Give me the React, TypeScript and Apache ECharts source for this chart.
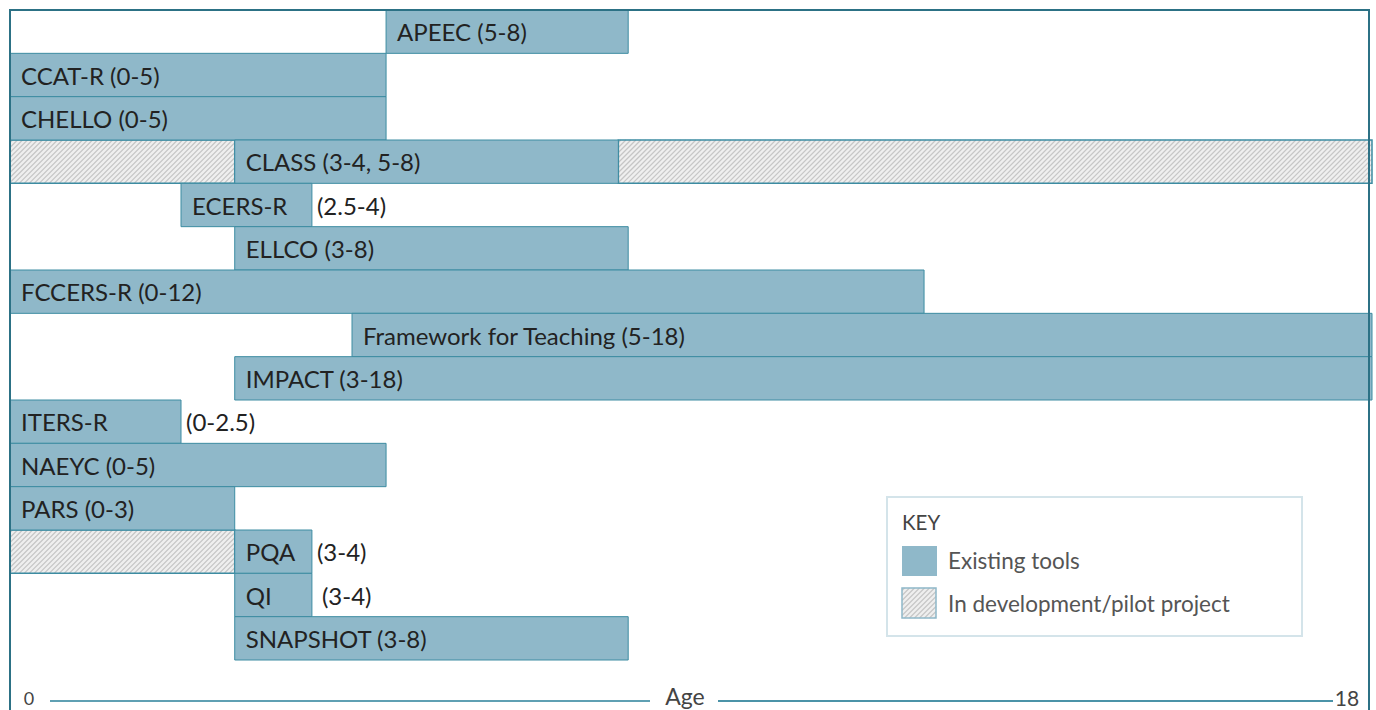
import React, { useEffect, useRef } from "react";
import * as echarts from "echarts";

// ---- data ----
const tools = [
  "APEEC", "CCAT-R", "CHELLO", "CLASS", "ECERS-R", "ELLCO", "FCCERS-R",
  "Framework for Teaching", "IMPACT", "ITERS-R", "NAEYC", "PARS", "PQA", "QI", "SNAPSHOT",
];
const ranges = [
  "(5-8)", "(0-5)", "(0-5)", "(3-4, 5-8)", "(2.5-4)", "(3-8)", "(0-12)",
  "(5-18)", "(3-18)", "(0-2.5)", "(0-5)", "(0-3)", "(3-4)", "(3-4)", "(3-8)",
];
// bar extents (age axis 0-18)
const existingStart = [4.97, 0, 0, 2.97, 2.26, 2.97, 0, 4.52, 2.97, 0, 0, 0, 2.97, 2.97, 2.97];
const existingEnd = [8.17, 4.97, 4.97, 8.04, 3.99, 8.17, 12.08, 18, 18, 2.26, 4.97, 2.97, 3.99, 3.99, 8.17];
const rangeOutside = [false, false, false, false, true, false, false, false, false, true, false, false, true, true, false];
// pilot / in-development segments: [row, start, end]
const pilotRows = [3, 3, 12];
const pilotStart = [0, 8.04, 0];
const pilotEnd = [2.97, 18, 2.97];

const axisEndLabels = ["0", "18"];
const axisName = "Age";
const keyTitle = "KEY";
const keyItems = ["Existing tools", "In development/pilot project"];

const BAR_FILL = "#8fb8c9";
const BAR_STROKE = "#3d8ca2";
const HATCH_BG = "#efefef";
const HATCH_LINE = "#c6c6c6";
const FONT = "Lato";

function hatchLines(x0: number, y0: number, x1: number, y1: number, step: number, z = 0) {
  const els: any[] = [];
  for (let c = x0 + y0 + step / 2; c < x1 + y1; c += step) {
    const xa = Math.max(x0, c - y1);
    const xb = Math.min(x1, c - y0);
    if (xb <= xa) continue;
    els.push({
      type: "line",
      z,
      shape: { x1: xa, y1: c - xa, x2: xb, y2: c - xb },
      style: { stroke: HATCH_LINE, lineWidth: 1.2 },
      silent: true,
    });
  }
  return els;
}

export default function App() {
  const ref = useRef<HTMLDivElement>(null);
  useEffect(() => {
    document.body.style.margin = "0";
    const chart = echarts.init(ref.current!, null, { renderer: "svg" });

    const existingData = tools.map((t, i) => [i, existingStart[i], existingEnd[i]]);
    const pilotData = pilotRows.map((r, i) => [r, pilotStart[i], pilotEnd[i]]);

    const keyX = 887, keyY = 497;
    const legendGraphics: any[] = [
      {
        type: "rect", z: 50,
        shape: { x: keyX, y: keyY, width: 415, height: 139 },
        style: { fill: "#fff", stroke: "#d4e4ea", lineWidth: 2 },
      },
      {
        type: "text", z: 51, x: 902, y: 522,
        style: { text: keyTitle, fill: "#444", font: `20.5px ${FONT}`, verticalAlign: "middle" },
      },
      {
        type: "rect", z: 51,
        shape: { x: 902, y: 546, width: 35, height: 30 },
        style: { fill: BAR_FILL },
      },
      {
        type: "text", z: 51, x: 948, y: 560,
        style: { text: keyItems[0], fill: "#555", font: `22.5px ${FONT}`, verticalAlign: "middle" },
      },
      {
        type: "rect", z: 51,
        shape: { x: 902, y: 588, width: 34, height: 30 },
        style: { fill: HATCH_BG },
      },
      ...hatchLines(902, 588, 936, 618, 5, 52),
      {
        type: "rect", z: 53,
        shape: { x: 902, y: 588, width: 34, height: 30 },
        style: { fill: "none", stroke: BAR_FILL, lineWidth: 1.5 },
      },
      {
        type: "text", z: 51, x: 948, y: 603,
        style: { text: keyItems[1], fill: "#555", font: `22.5px ${FONT}`, verticalAlign: "middle" },
      },
    ];

    const axisGraphics: any[] = [
      {
        type: "text", z: 50, x: 29, y: 698,
        style: { text: axisEndLabels[0], fill: "#444", font: `18px ${FONT}`, align: "center", verticalAlign: "middle" },
      },
      {
        type: "line", z: 50,
        shape: { x1: 50, y1: 701, x2: 650, y2: 701 },
        style: { stroke: "#5fa0b3", lineWidth: 2 },
      },
      {
        type: "text", z: 50, x: 685, y: 696,
        style: { text: axisName, fill: "#444", font: `23px ${FONT}`, align: "center", verticalAlign: "middle" },
      },
      {
        type: "line", z: 50,
        shape: { x1: 718, y1: 701, x2: 1333, y2: 701 },
        style: { stroke: "#4b93a8", lineWidth: 2 },
      },
      {
        type: "text", z: 50, x: 1347, y: 697,
        style: { text: axisEndLabels[1], fill: "#444", font: `21px ${FONT}`, align: "center", verticalAlign: "middle" },
      },
      {
        type: "rect", z: 100,
        shape: { x: 10, y: 10, width: 1359, height: 720 },
        style: { fill: "none", stroke: "#2c7185", lineWidth: 2 },
      },
    ];

    chart.setOption({
      animation: false,
      grid: { left: 10, right: 4, top: 10, height: 650 },
      xAxis: { type: "value", min: 0, max: 18, show: false },
      yAxis: { type: "category", data: tools, inverse: true, show: false },
      graphic: { elements: [...axisGraphics, ...legendGraphics] },
      series: [
        {
          type: "custom",
          name: "In development/pilot project",
          clip: false,
          encode: { x: [1, 2], y: 0 },
          data: pilotData,
          renderItem: (params: any, api: any) => {
            const row = api.value(0);
            const s = api.coord([api.value(1), row]);
            const e = api.coord([api.value(2), row]);
            const h = api.size([0, 1])[1];
            const x0 = s[0], x1 = e[0], y0 = s[1] - h / 2, y1 = s[1] + h / 2;
            return {
              type: "group",
              children: [
                { type: "rect", shape: { x: x0, y: y0, width: x1 - x0, height: h }, style: { fill: HATCH_BG } },
                ...hatchLines(x0, y0, x1, y1, 5),
                {
                  type: "rect",
                  shape: { x: x0, y: y0, width: x1 - x0, height: h },
                  style: { fill: "none", stroke: BAR_STROKE, lineWidth: 1.5 },
                },
              ],
            };
          },
        },
        {
          type: "custom",
          name: "Existing tools",
          clip: false,
          encode: { x: [1, 2], y: 0 },
          data: existingData,
          renderItem: (params: any, api: any) => {
            const row = api.value(0);
            const i = params.dataIndex;
            const s = api.coord([api.value(1), row]);
            const e = api.coord([api.value(2), row]);
            const h = api.size([0, 1])[1];
            const x0 = s[0], x1 = e[0], y0 = s[1] - h / 2;
            const children: any[] = [
              {
                type: "rect",
                shape: { x: x0, y: y0, width: x1 - x0, height: h },
                style: { fill: BAR_FILL, stroke: BAR_STROKE, lineWidth: 1 },
              },
              {
                type: "text",
                style: {
                  text: rangeOutside[i] ? tools[i] : `${tools[i]} ${ranges[i]}`,
                  x: x0 + 11, y: s[1],
                  fill: "#222", font: `24px ${FONT}`,
                  verticalAlign: "middle", align: "left",
                },
              },
            ];
            if (rangeOutside[i]) {
              children.push({
                type: "text",
                style: {
                  text: ranges[i], x: x1 + (tools[i] === "QI" ? 10 : 5), y: s[1],
                  fill: "#222", font: `24px ${FONT}`,
                  verticalAlign: "middle", align: "left",
                },
              });
            }
            return { type: "group", children };
          },
        },
      ],
    });
    return () => chart.dispose();
  }, []);
  return <div ref={ref} style={{ width: 1376, height: 710 }} />;
}
